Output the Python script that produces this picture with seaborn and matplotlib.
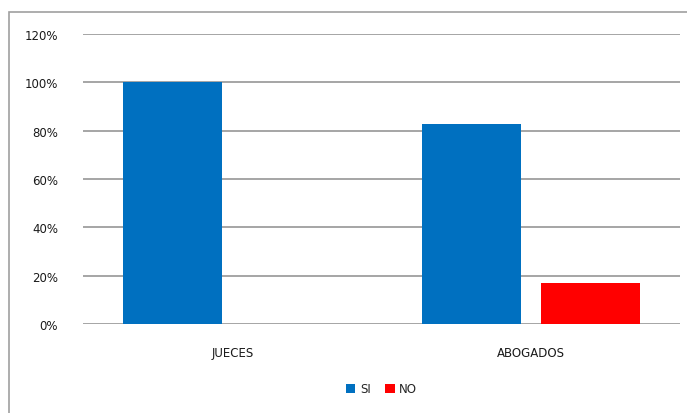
import pandas as pd
import numpy as np
import matplotlib
matplotlib.use("Agg")
import matplotlib.pyplot as plt
import seaborn as sns
from matplotlib.patches import Rectangle
from matplotlib.ticker import PercentFormatter

# values
grupos = ["JUECES", "ABOGADOS"]
si_vals = [100, 83]
no_vals = [0, 17]
respuestas = ["SI", "NO"]
colores = {"SI": "#0070C0", "NO": "#FF0000"}

df = pd.DataFrame({
    "grupo": grupos * 2,
    "respuesta": ["SI"] * len(grupos) + ["NO"] * len(grupos),
    "valor": si_vals + no_vals,
})

sns.set_style("white")
plt.rcParams["font.family"] = ["DejaVu Sans"]

fig = plt.figure(figsize=(6.87, 4.14), dpi=100)
ax = fig.add_axes([0.121, 0.215, 0.869, 0.70])

sns.barplot(data=df, x="grupo", y="valor", hue="respuesta", hue_order=respuestas,
            palette=colores, width=0.8, gap=0.17, saturation=1, ax=ax,
            linewidth=0, legend=True, zorder=3)

ax.set_ylim(0, 120)
ax.set_xlim(-0.5, 1.5)
ax.set_yticks(np.arange(0, 121, 20))
ax.yaxis.set_major_formatter(PercentFormatter(decimals=0))
ax.grid(axis="y", color="#9E9E9E", linewidth=1.3, zorder=0)
ax.set_axisbelow(True)
for s in ax.spines.values():
    s.set_visible(False)
ax.tick_params(axis="y", length=0, pad=18, labelsize=8.5, labelcolor="#1a1a1a")
ax.tick_params(axis="x", length=0, pad=16, labelsize=8.5, labelcolor="#1a1a1a")
ax.set_xlabel("")
ax.set_ylabel("")

leg = ax.legend(loc="upper center", bbox_to_anchor=(0.5, -0.165), ncol=2, frameon=False,
                fontsize=8.5, handlelength=0.8, handleheight=0.8, handletextpad=0.4,
                columnspacing=1.2)

# chart border (right and bottom edges run off the image)
fig.patches.append(Rectangle((9 / 687, -0.05), 1.1, 1.05 - 13 / 414, transform=fig.transFigure,
                             fill=False, edgecolor="#A0A0A0", linewidth=1.2, clip_on=False))

fig.savefig("out.png", dpi=100)
